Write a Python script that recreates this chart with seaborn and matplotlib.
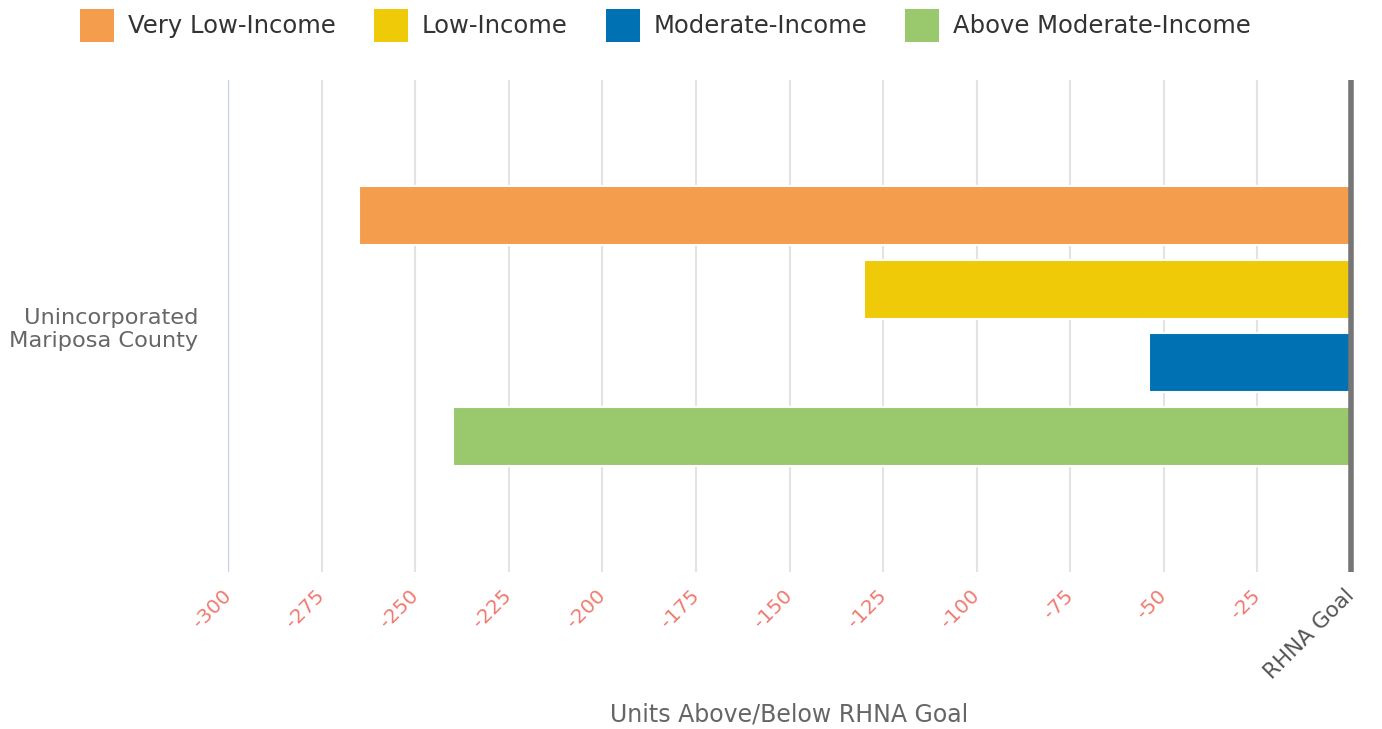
import matplotlib
matplotlib.use("Agg")
import matplotlib.pyplot as plt
import seaborn as sns
import pandas as pd
from matplotlib.patches import Patch

# Data
categories = ["Unincorporated\nMariposa County"]
income_levels = ["Very Low-Income", "Low-Income", "Moderate-Income", "Above Moderate-Income"]
values = [-265, -130, -54, -240]
colors = ["#F39D4D", "#EFCA08", "#0071B2", "#99C96C"]
tick_values = [-300, -275, -250, -225, -200, -175, -150, -125, -100, -75, -50, -25, 0]
tick_labels = ["-300", "-275", "-250", "-225", "-200", "-175", "-150", "-125", "-100", "-75", "-50", "-25", "RHNA Goal"]

df = pd.DataFrame({
    "category": categories * len(income_levels),
    "income": income_levels,
    "value": values,
})

sns.set_theme(style="white")
plt.rcParams["font.family"] = ["DejaVu Sans"]

W, H = 1382, 729
fig = plt.figure(figsize=(W / 100, H / 100), dpi=100)
ax = fig.add_axes([228 / W, 1 - 572 / H, (1351 - 228) / W, (572 - 80) / H])

sns.barplot(data=df, x="value", y="category", hue="income", hue_order=income_levels,
            palette=colors, orient="h", width=0.6, gap=0.2, ax=ax,
            edgecolor="white", linewidth=1.5, legend=False, saturation=1)

ax.set_xlim(-300, 0)
ax.set_ylim(0.5, -0.5)
ax.set_xticks(tick_values)
ax.set_xticklabels(tick_labels)
ax.set_axisbelow(True)
for t in tick_values[1:-1]:
    ax.axvline(t, color="#e3e3e3", lw=1.5, zorder=0)
ax.axvline(-300, color="#c5cfe4", lw=1.6, zorder=0)
ax.axvline(0, color="#767676", lw=4, zorder=5, clip_on=False, solid_capstyle="butt")

for s in ax.spines.values():
    s.set_visible(False)
ax.tick_params(axis="x", length=0, pad=15)
ax.tick_params(axis="y", length=0, pad=21.5)
for lbl in ax.get_xticklabels():
    lbl.set_rotation(45)
    lbl.set_rotation_mode("anchor")
    lbl.set_ha("right")
    lbl.set_va("center")
    lbl.set_fontsize(14.5)
    lbl.set_color("#F07B70")
ax.get_xticklabels()[-1].set_color("#555555")
ax.get_xticklabels()[-1].set_fontsize(15.5)
for lbl in ax.get_yticklabels():
    lbl.set_fontsize(16.2)
    lbl.set_color("#666666")
    lbl.set_ha("right")
    lbl.set_multialignment("right")

ax.set_ylabel("")
ax.set_xlabel("Units Above/Below RHNA Goal", fontsize=17, color="#666666", va="center")
ax.xaxis.set_label_coords(0.5, (572 - 714) / 492)

handles = [Patch(facecolor=c, edgecolor="none") for c in colors]
fig.legend(handles, income_levels, loc="upper center", bbox_to_anchor=(665.5 / W, 1.018),
           ncol=4, frameon=False, fontsize=17.5, handlelength=1.4, handleheight=1.7,
           handletextpad=0.58, columnspacing=1.56, labelcolor="#333333")

fig.savefig("out.png", dpi=100, facecolor="white")
